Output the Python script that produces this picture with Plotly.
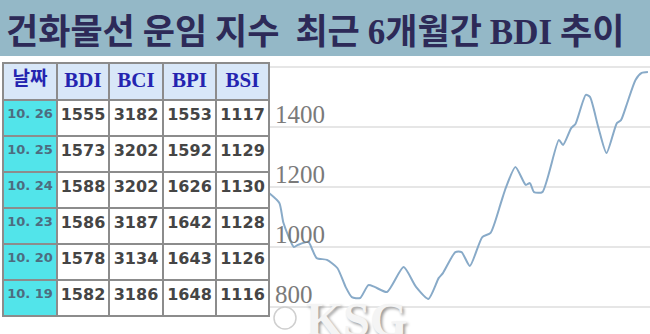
import plotly.graph_objects as go

# ---- data ----
title_parts = ["건화물선 운임 지수  최근 ", "6", "개월간 ", "BDI", " 추이"]

line_dates = ["2017-04-26","2017-05-01","2017-05-03","2017-05-08","2017-05-10","2017-05-15","2017-05-17",
              "2017-05-19","2017-05-24","2017-05-29","2017-06-02","2017-06-05","2017-06-09","2017-06-13",
              "2017-06-16","2017-06-22","2017-06-30","2017-07-06","2017-07-12","2017-07-17","2017-07-19",
              "2017-07-25","2017-07-28","2017-08-01","2017-08-07","2017-08-11","2017-08-16","2017-08-18",
              "2017-08-23","2017-08-28","2017-08-30","2017-09-01","2017-09-05","2017-09-13","2017-09-15",
              "2017-09-19","2017-09-21","2017-09-26","2017-09-28","2017-10-02","2017-10-06","2017-10-11",
              "2017-10-13","2017-10-16","2017-10-20","2017-10-23","2017-10-26"]
line_values = [1180,1147,1080,1000,1007,1017,990,963,957,930,867,833,830,873,867,850,933,867,827,897,
               913,983,983,937,1033,1047,1147,1190,1267,1207,1213,1183,1183,1357,1340,1397,1410,1507,
               1500,1400,1313,1413,1423,1480,1557,1580,1583]

y_tickvals = [800, 1000, 1200, 1400, 1600]
y_ticktext = ["800", "1000", "1200", "1400", ""]

tbl_header = ["날짜", "BDI", "BCI", "BPI", "BSI"]
tbl_dates = ["10.\u00a026", "10.\u00a025", "10.\u00a024", "10.\u00a023", "10.\u00a020", "10.\u00a019"]
tbl_bdi = [1555, 1573, 1588, 1586, 1578, 1582]
tbl_bci = [3182, 3202, 3202, 3187, 3134, 3186]
tbl_bpi = [1553, 1592, 1626, 1642, 1643, 1648]
tbl_bsi = [1117, 1129, 1130, 1128, 1126, 1116]

W, H = 650, 334

fig = go.Figure()

fig.add_trace(go.Scatter(
    x=line_dates, y=line_values, mode="lines",
    line=dict(color="#88aac8", width=2, shape="spline", smoothing=0.6),
    hoverinfo="skip", showlegend=False,
))

n = len(tbl_dates)
fig.add_trace(go.Table(
    domain=dict(x=[3 / W, 269 / W], y=[0.0, 1 - 63 / H]),
    columnwidth=[54, 52, 54, 53, 53],
    header=dict(
        values=tbl_header,
        fill_color="#d8e7f8",
        line=dict(color="#8c8c8c", width=1.5),
        align="center",
        height=37,
        font=dict(family=["Noto Sans CJK KR", "Liberation Serif", "Liberation Serif",
                          "Liberation Serif", "Liberation Serif"],
                  size=[19, 21, 21, 21, 21], color="#2424b0", weight="bold"),
    ),
    cells=dict(
        values=[tbl_dates, tbl_bdi, tbl_bci, tbl_bpi, tbl_bsi],
        fill_color=[["#52e4ea"] * n, ["white"] * n, ["white"] * n, ["white"] * n, ["white"] * n],
        line=dict(color="#8c8c8c", width=1.5),
        align="center",
        height=36,
        font=dict(family="DejaVu Sans", size=[13, 16, 16, 16, 16],
                  color=["#4d6c80", "#454545", "#454545", "#454545", "#454545"], weight="bold"),
    ),
))

# title banner
fig.add_shape(type="rect", xref="paper", yref="paper", x0=0, x1=1, y0=1 - 56 / H, y1=1,
              fillcolor="#94b8c7", line_width=0, layer="above")

serif = "font-family:'Liberation Serif'"
title_html = (title_parts[0] + f"<span style=\"{serif}\">{title_parts[1]}</span>" + title_parts[2]
              + f"<span style=\"{serif}\">{title_parts[3]}</span>" + title_parts[4])
fig.add_annotation(text=title_html, xref="paper", yref="paper", x=4 / W, y=1 - 29 / H,
                   xanchor="left", yanchor="middle", showarrow=False,
                   font=dict(family="Noto Sans CJK KR", size=35, color="#2d2a58", weight="bold"))

# watermark
fig.add_shape(type="circle", xref="paper", yref="paper", x0=274 / W, x1=296 / W,
              y0=1 - 329 / H, y1=1 - 307 / H, line=dict(color="#cfcfcf", width=1.5),
              fillcolor="rgba(255,255,255,0.6)", layer="above")
fig.add_annotation(text="KSG", xref="paper", yref="paper", x=304 / W, y=1 - 319 / H,
                   xanchor="left", yanchor="middle", showarrow=False,
                   font=dict(family="Liberation Serif", size=48, color="#f4f4f4", weight="bold",
                             shadow="2px 2px 3px #9a9a9a"))

fig.update_layout(
    width=W, height=H,
    margin=dict(l=0, r=0, t=0, b=0),
    paper_bgcolor="white", plot_bgcolor="white",
    xaxis=dict(domain=[269 / W, 1], range=["2017-04-26", "2017-10-27"], showgrid=False,
               showticklabels=False, zeroline=False, showline=False, ticks=""),
    yaxis=dict(domain=[0, 1], range=[710, 1823.3], tickvals=y_tickvals, ticktext=y_ticktext,
               showgrid=True, gridcolor="#e6e6e6", gridwidth=2, zeroline=False, showline=False,
               ticks="", ticklabelposition="inside", ticklabelshift=-13, ticklabelstandoff=3,
               tickfont=dict(family="Liberation Serif", size=25, color="#7a7a7a")),
    showlegend=False,
)

fig.write_html("out.html")
